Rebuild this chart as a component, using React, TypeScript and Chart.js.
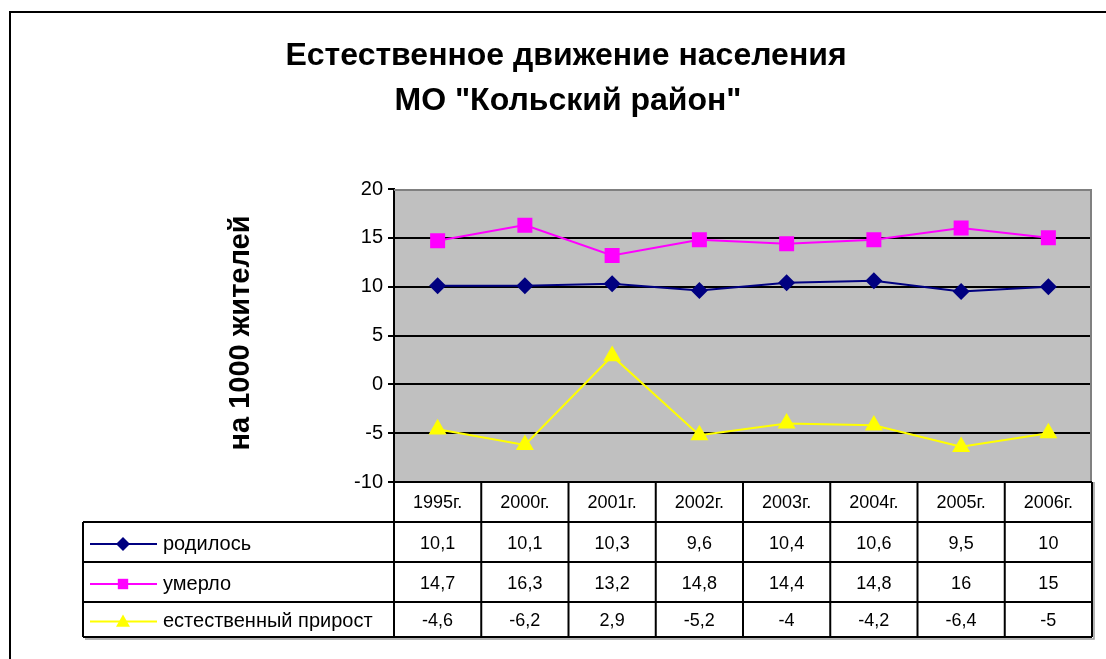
import React, { useEffect, useRef } from 'react';
import { Chart, registerables } from 'chart.js';

Chart.register(...registerables);

const categories = ['1995г.', '2000г.', '2001г.', '2002г.', '2003г.', '2004г.', '2005г.', '2006г.'];
const born = [10.1, 10.1, 10.3, 9.6, 10.4, 10.6, 9.5, 10];
const died = [14.7, 16.3, 13.2, 14.8, 14.4, 14.8, 16, 15];
const natural = [-4.6, -6.2, 2.9, -5.2, -4, -4.2, -6.4, -5];
const seriesNames = ['родилось', 'умерло', 'естественный прирост'];
const seriesColors = ['#000080', '#FF00FF', '#FFFF00'];
const seriesMarkers = ['diamond', 'square', 'triangle'];
const titleLines = ['Естественное движение населения', 'МО "Кольский район"'];
const yTitle = 'на 1000 жителей';
const yMin = -10;
const yMax = 20;
const yStep = 5;

const FONT = '"Liberation Sans", Arial, sans-serif';

const fmt = (v: number) => String(v).replace('.', ',');

function drawMarker(ctx: CanvasRenderingContext2D, kind: string, x: number, y: number, s: number, color: string) {
  ctx.save();
  ctx.fillStyle = color;
  ctx.beginPath();
  if (kind === 'diamond') {
    ctx.moveTo(x, y - s);
    ctx.lineTo(x + s, y);
    ctx.lineTo(x, y + s);
    ctx.lineTo(x - s, y);
  } else if (kind === 'square') {
    ctx.rect(x - s * 0.8, y - s * 0.8, s * 1.6, s * 1.6);
  } else {
    ctx.moveTo(x, y - s);
    ctx.lineTo(x + s, y + s * 0.75);
    ctx.lineTo(x - s, y + s * 0.75);
  }
  ctx.closePath();
  ctx.fill();
  ctx.restore();
}

const decorPlugin = {
  id: 'decor',
  beforeDraw(chart: any) {
    const { ctx, chartArea: a } = chart;
    ctx.save();
    ctx.fillStyle = '#FFFFFF';
    ctx.fillRect(0, 0, chart.width, chart.height);
    ctx.fillStyle = '#C0C0C0';
    ctx.fillRect(a.left, a.top, a.right - a.left, a.bottom - a.top);
    // outer frame
    ctx.strokeStyle = '#000';
    ctx.lineWidth = 2;
    ctx.strokeRect(10, 12, chart.width + 40, chart.height + 40);
    // titles
    ctx.fillStyle = '#000';
    ctx.textAlign = 'center';
    ctx.textBaseline = 'middle';
    ctx.font = `bold 32px ${FONT}`;
    ctx.fillText(titleLines[0], 566, 56);
    ctx.fillText(titleLines[1], 568, 101);
    // y title
    ctx.save();
    ctx.translate(241, 333);
    ctx.rotate(-Math.PI / 2);
    ctx.font = `bold 29px ${FONT}`;
    ctx.fillText(yTitle, 0, 0);
    ctx.restore();
    ctx.restore();
  },
  beforeDatasetsDraw(chart: any) {
    const { ctx, chartArea: a } = chart;
    ctx.save();
    ctx.strokeStyle = '#808080';
    ctx.lineWidth = 2;
    ctx.beginPath();
    ctx.moveTo(a.left, a.top + 1);
    ctx.lineTo(a.right - 1, a.top + 1);
    ctx.lineTo(a.right - 1, a.bottom);
    ctx.stroke();
    ctx.restore();
  },
  afterDraw(chart: any) {
    const { ctx, chartArea: a } = chart;
    const xs = chart.scales.x;
    const n = categories.length;
    const colW = (a.right - a.left) / n;
    const top = a.bottom;
    const rows = [top, top + 40, top + 80, top + 120, top + 155];
    const tableLeft = 83;
    const right = a.right;
    ctx.save();
    ctx.fillStyle = '#FFFFFF';
    ctx.fillRect(a.left, rows[0], right - a.left, rows[4] - rows[0]);
    ctx.fillRect(tableLeft, rows[1], a.left - tableLeft, rows[4] - rows[1]);
    // shadow
    ctx.strokeStyle = '#9a9a9a';
    ctx.lineWidth = 1.5;
    ctx.beginPath();
    ctx.moveTo(right + 2, rows[0]);
    ctx.lineTo(right + 2, rows[4] + 2);
    ctx.lineTo(tableLeft + 2, rows[4] + 2);
    ctx.stroke();
    ctx.strokeStyle = '#000';
    ctx.lineWidth = 2;
    ctx.beginPath();
    ctx.moveTo(a.left, rows[0]);
    ctx.lineTo(right, rows[0]);
    for (let i = 1; i < rows.length; i++) {
      ctx.moveTo(tableLeft, rows[i]);
      ctx.lineTo(right, rows[i]);
    }
    ctx.moveTo(tableLeft, rows[1]);
    ctx.lineTo(tableLeft, rows[4]);
    for (let i = 0; i <= n; i++) {
      const x = a.left + i * colW;
      ctx.moveTo(x, rows[0]);
      ctx.lineTo(x, rows[4]);
    }
    ctx.stroke();

    ctx.fillStyle = '#000';
    ctx.textAlign = 'center';
    ctx.textBaseline = 'middle';
    ctx.font = `18px ${FONT}`;
    const all = [born, died, natural];
    categories.forEach((c, i) => {
      const cx = xs.getPixelForValue(i);
      ctx.fillText(c, cx, (rows[0] + rows[1]) / 2 + 1);
      all.forEach((arr, r) => {
        ctx.fillText(fmt(arr[i]), cx, (rows[r + 1] + rows[r + 2]) / 2 + 2);
      });
    });
    ctx.font = `20px ${FONT}`;
    seriesNames.forEach((name, r) => {
      const cy = (rows[r + 1] + rows[r + 2]) / 2 + 2;
      ctx.strokeStyle = seriesColors[r];
      ctx.lineWidth = 2;
      ctx.beginPath();
      ctx.moveTo(90, cy);
      ctx.lineTo(157, cy);
      ctx.stroke();
      drawMarker(ctx, seriesMarkers[r], 123, cy, r === 1 ? 6.5 : 7, seriesColors[r]);
      ctx.fillStyle = '#000';
      ctx.textAlign = 'left';
      ctx.fillText(name, 163, cy);
    });
    ctx.restore();
  },
};

export default function App() {
  const ref = useRef<HTMLCanvasElement | null>(null);
  useEffect(() => {
    if (!ref.current) return;
    const chart = new Chart(ref.current, {
      type: 'line',
      data: {
        labels: categories,
        datasets: [
          {
            label: seriesNames[0],
            data: born,
            borderColor: seriesColors[0],
            backgroundColor: seriesColors[0],
            borderWidth: 2,
            pointStyle: 'rectRot',
            pointRadius: 8.5,
            pointBorderWidth: 0,
          },
          {
            label: seriesNames[1],
            data: died,
            borderColor: seriesColors[1],
            backgroundColor: seriesColors[1],
            borderWidth: 2,
            pointStyle: 'rect',
            pointRadius: 10.6,
            pointBorderWidth: 0,
          },
          {
            label: seriesNames[2],
            data: natural,
            borderColor: seriesColors[2],
            backgroundColor: seriesColors[2],
            borderWidth: 2,
            pointStyle: 'triangle',
            pointRadius: 10.4,
            pointBorderWidth: 0,
          },
        ],
      },
      options: {
        animation: false,
        responsive: false,
        maintainAspectRatio: false,
        devicePixelRatio: 1,
        layout: { padding: { left: 0, top: 189, right: 14, bottom: 177 } },
        plugins: { legend: { display: false }, tooltip: { enabled: false }, title: { display: false } },
        scales: {
          x: { type: 'category', display: false, offset: true },
          y: {
            min: yMin,
            max: yMax,
            ticks: { stepSize: yStep, color: '#000', font: { size: 20, family: FONT }, padding: 5 },
            grid: {
              color: (c: any) => (c.tick && c.tick.value === yMax ? 'rgba(0,0,0,0)' : '#000'),
              lineWidth: 2,
              tickLength: 6,
              tickColor: '#000',
            },
            border: { color: '#000', width: 2 },
            afterFit: (s: any) => {
              s.width = 394;
            },
          },
        },
      },
      plugins: [decorPlugin],
    } as any);
    return () => chart.destroy();
  }, []);
  return (
    <div style={{ position: 'fixed', left: 0, top: 0, width: 1106, height: 659, background: '#fff' }}>
      <canvas ref={ref} width={1106} height={659} style={{ width: 1106, height: 659, display: 'block' }} />
    </div>
  );
}
